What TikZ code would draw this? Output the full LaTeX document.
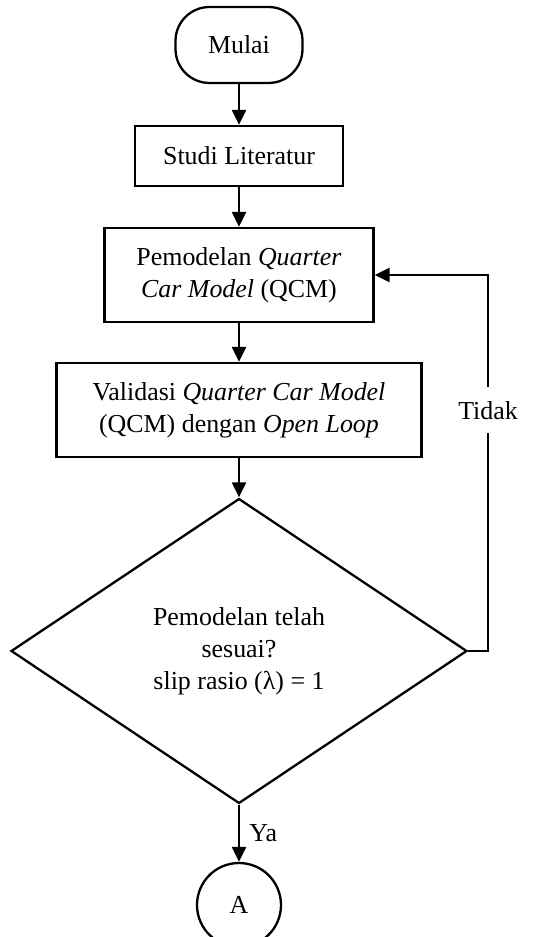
\documentclass[tikz,border=0pt]{standalone}
\usepackage{fontspec}
\setmainfont{Liberation Serif}
\usetikzlibrary{shapes.geometric, arrows.meta}

\begin{document}
\begin{tikzpicture}[x=1bp, y=1bp,
	font=\fontsize{26}{32}\selectfont,
	terminal/.style={draw, line width=2.3bp, rounded corners=34bp, minimum width=127bp, minimum height=76bp},
	proses/.style={draw, line width=2.3bp, align=center, minimum height=94bp},
	keputusan/.style={draw, diamond, line width=2.3bp, align=center, minimum width=456bp, minimum height=305bp, inner sep=0pt},
	konektor/.style={draw, circle, line width=2.3bp, minimum size=84bp},
	panah/.style={-{Triangle[length=15bp, width=14bp]}, line width=2.3bp}]
	% Frame
	\useasboundingbox (0,0) rectangle (539,937);
	% Nodes
	\node [terminal] (mulai) at (239,892) {Mulai};
	\node [proses, minimum width=208bp, minimum height=60bp] (studi) at (239,781) {Studi Literatur};
	\node [proses, minimum width=269bp] (model) at (239,662) {Pemodelan \textit{Quarter}\\\textit{Car Model} (QCM)};
	\node [proses, minimum width=365bp] (valid) at (239,527) {Validasi \textit{Quarter Car Model}\\(QCM) dengan \textit{Open Loop}};
	\node [keputusan] (cek) at (239,286) {Pemodelan telah\\sesuai?\\slip rasio (λ) = 1};
	\node [konektor] (konek) at (239,32) {A};
	% Arrows
	\draw [panah] (mulai) -- (studi);
	\draw [panah] (studi) -- (model);
	\draw [panah] (model) -- (valid);
	\draw [panah] (valid) -- (cek);
	\draw [panah] (cek) -- node [anchor=west, xshift=6bp] {Ya} (konek);
	% Feedback
	\coordinate (balik) at (488,286);
	\draw [panah] (cek.east) -- (balik) -- node [pos=0.64, fill=white, inner xsep=2bp, inner ysep=14bp] {Tidak} (balik |- model.east) -- (model.east);
\end{tikzpicture}
\end{document}
